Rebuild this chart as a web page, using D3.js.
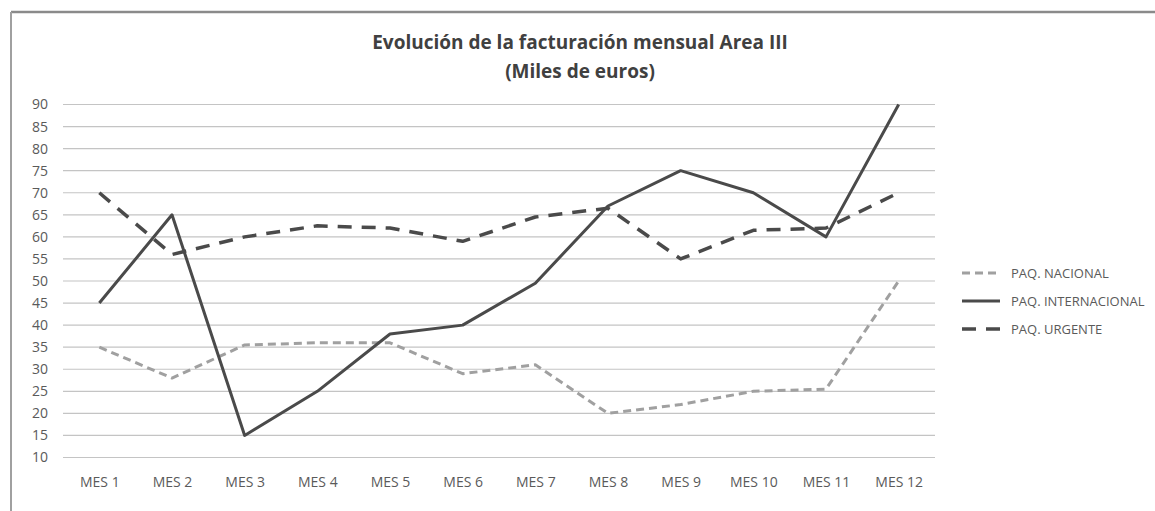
<!DOCTYPE html>
<html>
<head>
<meta charset="utf-8">
<script src="https://cdn.jsdelivr.net/npm/d3@7"></script>
<style>
  body { margin: 0; background: #fff; }
  svg text { font-family: "Open Sans", "Noto Sans", sans-serif; }
</style>
</head>
<body>
<div id="chart"></div>
<script>
// data
var meses = ['MES 1','MES 2','MES 3','MES 4','MES 5','MES 6','MES 7','MES 8','MES 9','MES 10','MES 11','MES 12'];
var nacional = [35, 28, 35.5, 36, 36, 29, 31, 20, 22, 25, 25.5, 50];
var internacional = [45, 65, 15, 25, 38, 40, 49.5, 67, 75, 70, 60, 90];
var urgente = [70, 56, 60, 62.5, 62, 59, 64.5, 66.5, 55, 61.5, 62, 70];
var yTicks = [10, 15, 20, 25, 30, 35, 40, 45, 50, 55, 60, 65, 70, 75, 80, 85, 90];

var series = [
  {name: 'PAQ. NACIONAL', values: nacional, color: '#a0a0a0', width: 3, dash: '8,5'},
  {name: 'PAQ. INTERNACIONAL', values: internacional, color: '#4a4a4a', width: 3, dash: null},
  {name: 'PAQ. URGENTE', values: urgente, color: '#4a4a4a', width: 3.5, dash: '14,10'}
];

var W = 1155, H = 511;
var margin = {top: 104.5, left: 63, right: 220, bottom: 53.5};

var svg = d3.select('#chart').append('svg')
  .attr('width', W)
  .attr('height', H);

// outer frame
svg.append('line').attr('x1', 11).attr('x2', W).attr('y1', 12).attr('y2', 12)
  .attr('stroke', '#8a8a8a').attr('stroke-width', 2.5);
svg.append('line').attr('x1', 11).attr('x2', 11).attr('y1', 12).attr('y2', H)
  .attr('stroke', '#a0a0a0').attr('stroke-width', 2);

var x = d3.scalePoint()
  .domain(meses)
  .range([margin.left, W - margin.right])
  .padding(0.5);

var y = d3.scaleLinear()
  .domain([10, 90])
  .range([H - margin.bottom, margin.top]);

// grid
svg.append('g')
  .selectAll('line')
  .data(yTicks).enter().append('line')
  .attr('x1', margin.left)
  .attr('x2', W - margin.right)
  .attr('y1', function (d) { return y(d); })
  .attr('y2', function (d) { return y(d); })
  .attr('stroke', '#c4c4c4')
  .attr('stroke-width', 1.2);

// y axis labels
var yAxis = d3.axisLeft(y).tickValues(yTicks).tickSize(0).tickPadding(15);
svg.append('g')
  .attr('transform', 'translate(' + margin.left + ',0)')
  .call(yAxis)
  .call(function (g) { g.select('.domain').remove(); })
  .selectAll('text')
  .attr('fill', '#5a5a5a')
  .style('font-size', '14px');

// x axis labels
var xAxis = d3.axisBottom(x).tickSize(0).tickPadding(20);
svg.append('g')
  .attr('transform', 'translate(0,' + (H - margin.bottom) + ')')
  .call(xAxis)
  .call(function (g) { g.select('.domain').remove(); })
  .selectAll('text')
  .attr('fill', '#5a5a5a')
  .style('font-size', '14px');

// lines
var line = d3.line()
  .x(function (d, i) { return x(meses[i]); })
  .y(function (d) { return y(d); });

svg.append('g')
  .selectAll('path')
  .data(series).enter().append('path')
  .attr('d', function (s) { return line(s.values); })
  .attr('fill', 'none')
  .attr('stroke', function (s) { return s.color; })
  .attr('stroke-width', function (s) { return s.width; })
  .attr('stroke-dasharray', function (s) { return s.dash; })
  .attr('stroke-linejoin', 'round');

// title
var title = svg.append('text')
  .attr('text-anchor', 'middle')
  .attr('fill', '#404040')
  .style('font-size', '19px')
  .style('font-weight', 'bold');
title.append('tspan').attr('x', 580).attr('y', 49).text('Evolución de la facturación mensual Area III');
title.append('tspan').attr('x', 580).attr('y', 78).text('(Miles de euros)');

// legend
var legend = svg.append('g')
  .selectAll('g')
  .data(series).enter().append('g')
  .attr('transform', function (s, i) { return 'translate(962,' + (273 + i * 28) + ')'; });

legend.append('line')
  .attr('x1', 0).attr('x2', 38)
  .attr('stroke', function (s) { return s.color; })
  .attr('stroke-width', function (s) { return s.width; })
  .attr('stroke-dasharray', function (s) { return s.dash; });

legend.append('text')
  .attr('x', 49)
  .attr('dy', '0.35em')
  .attr('fill', '#5a5a5a')
  .style('font-size', '13px')
  .text(function (s) { return s.name; });
</script>
</body>
</html>
